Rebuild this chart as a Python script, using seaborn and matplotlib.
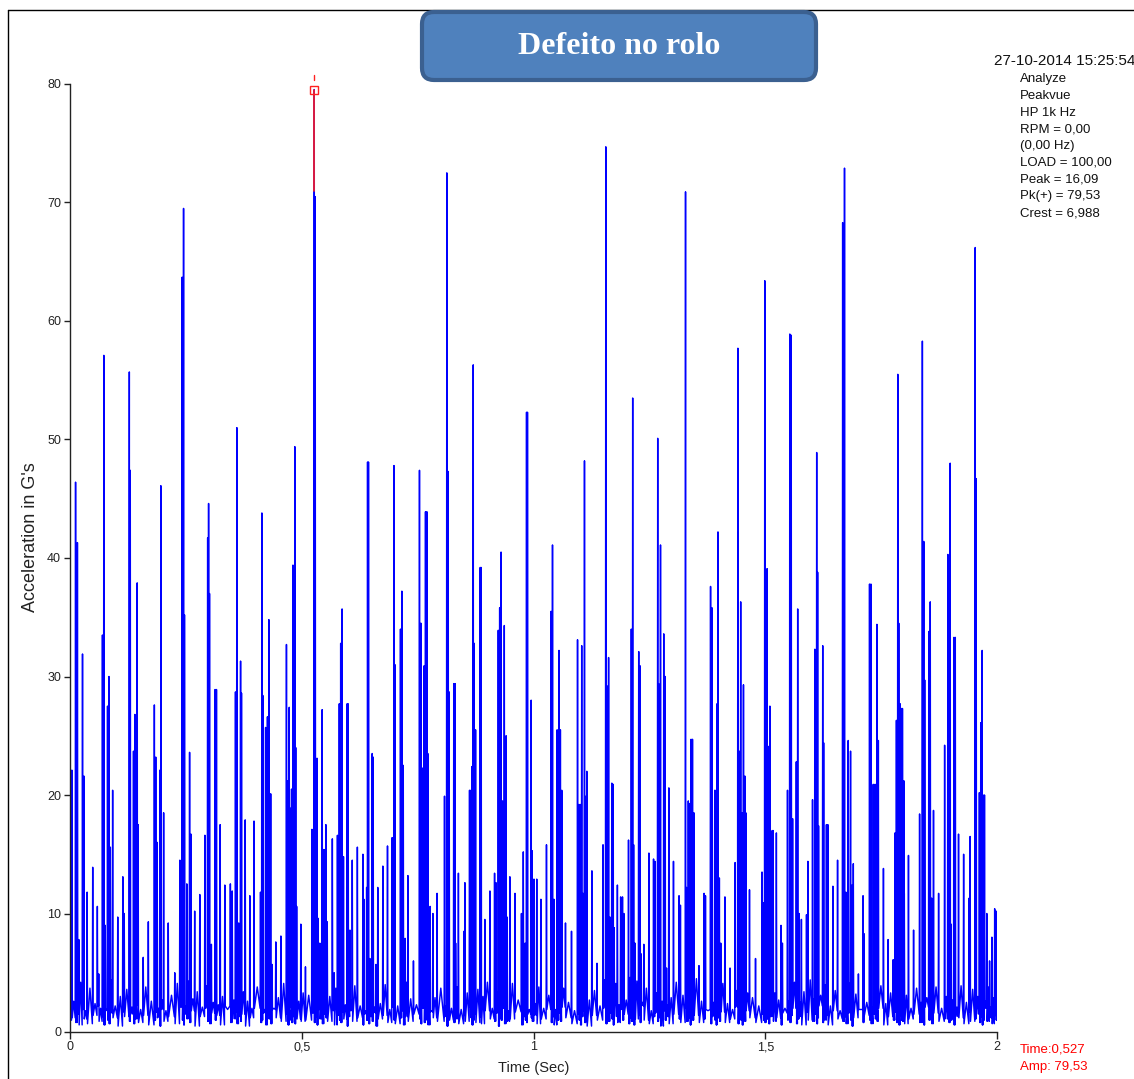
import numpy as np
import pandas as pd
import matplotlib
matplotlib.use("Agg")
import matplotlib.pyplot as plt
from matplotlib.patches import FancyBboxPatch
from matplotlib.lines import Line2D
import seaborn as sns

# ---------------------------------------------------------------------------
# PeakVue waveform: impact peaks (time in s, acceleration in G), the floor the
# signal falls back to after each impact and the small ripple that follows,
# split in half-second blocks.
# ---------------------------------------------------------------------------
a_time = [0.004, 0.012, 0.016, 0.019, 0.027, 0.030, 0.037, 0.049, 0.059, 0.062,
          0.070, 0.073, 0.076, 0.081, 0.084, 0.087, 0.092, 0.103, 0.114, 0.117,
          0.128, 0.130, 0.137, 0.140, 0.145, 0.147, 0.158, 0.169, 0.182, 0.185,
          0.188, 0.194, 0.196, 0.202, 0.212, 0.226, 0.237, 0.242, 0.245, 0.247,
          0.252, 0.258, 0.261, 0.269, 0.280, 0.291, 0.297, 0.299, 0.301, 0.305,
          0.313, 0.316, 0.324, 0.334, 0.346, 0.350, 0.357, 0.360, 0.364, 0.368,
          0.370, 0.378, 0.388, 0.397, 0.411, 0.414, 0.416, 0.422, 0.426, 0.429,
          0.433, 0.436, 0.444, 0.455, 0.467, 0.470, 0.473, 0.475, 0.478, 0.481,
          0.485, 0.487, 0.489, 0.498]
a_peak = [22.1, 46.4, 41.3, 7.8, 31.9, 21.6, 11.8, 13.9, 10.6, 4.9,
          33.5, 57.1, 9.0, 27.5, 30.0, 15.6, 20.4, 9.7, 13.1, 10.0,
          55.7, 47.4, 23.7, 26.8, 37.9, 17.5, 6.3, 9.3, 27.6, 23.2,
          16.0, 22.1, 46.1, 18.5, 9.2, 5.0, 14.5, 63.7, 69.5, 35.2,
          12.5, 23.6, 16.7, 10.2, 11.6, 16.6, 41.7, 44.6, 37.0, 7.4,
          28.9, 28.9, 17.5, 12.4, 12.5, 11.9, 28.7, 51.0, 9.2, 31.3,
          28.6, 17.9, 11.5, 17.8, 11.8, 43.8, 28.4, 25.7, 26.6, 34.8,
          20.1, 5.7, 7.6, 8.1, 32.7, 21.2, 27.4, 18.9, 20.5, 39.4,
          49.4, 24.0, 10.6, 9.1]
a_floor = [1.2, 0.8, 1.5, 0.6, 1.9, 1.1, 0.7, 1.4, 2.2, 0.9,
           1.3, 0.6, 1.8, 1.0, 0.7, 1.6, 1.2, 0.5, 2.0, 1.3,
           0.9, 1.5, 0.7, 1.1, 2.3, 0.8, 1.4, 0.6, 1.0, 1.7,
           1.2, 0.5, 1.9, 0.9, 1.3, 0.7, 2.1, 1.0, 0.6, 1.5,
           1.1, 0.8, 1.8, 0.5, 1.3, 2.0, 0.9, 1.2, 0.7, 1.6,
           1.0, 1.4, 0.6, 2.2, 0.8, 1.1, 1.7, 0.7, 1.3, 0.9,
           1.5, 0.5, 1.2, 2.0, 0.8, 1.0, 1.6, 0.6, 1.4, 1.1,
           0.7, 1.9, 1.2, 0.9, 1.5, 0.6, 1.0, 2.1, 0.8, 1.3,
           0.7, 1.4, 1.1, 0.9]
a_ripple = [2.6, 3.4, 2.1, 4.2, 2.9, 1.8, 3.7, 2.4, 3.1, 2.0,
            3.9, 2.5, 1.9, 3.3, 2.7, 4.4, 2.2, 3.0, 1.7, 3.6,
            2.8, 2.1, 4.0, 2.5, 3.2, 1.9, 3.8, 2.6, 2.3, 4.6,
            2.0, 3.5, 2.7, 1.8, 3.1, 4.1, 2.4, 2.9, 3.6, 2.2,
            4.3, 1.9, 2.8, 3.4, 2.1, 3.9, 2.6, 1.8, 3.3, 2.5,
            4.0, 2.3, 3.0, 1.9, 3.7, 2.7, 2.2, 4.5, 2.9, 1.8,
            3.4, 2.6, 2.0, 3.8, 2.4, 3.1, 1.9, 4.2, 2.7, 2.2,
            3.5, 2.0, 2.9, 4.1, 2.3, 3.2, 1.8, 3.6, 2.5, 3.0,
            2.1, 4.0, 2.6, 3.3]

b_time = [0.508, 0.522, 0.527, 0.529, 0.533, 0.535, 0.539, 0.544, 0.548, 0.552,
          0.555, 0.566, 0.570, 0.577, 0.581, 0.584, 0.587, 0.590, 0.598, 0.600,
          0.604, 0.609, 0.620, 0.632, 0.634, 0.640, 0.642, 0.644, 0.647, 0.652,
          0.654, 0.660, 0.664, 0.675, 0.685, 0.695, 0.699, 0.701, 0.713, 0.716,
          0.719, 0.723, 0.729, 0.741, 0.754, 0.757, 0.759, 0.764, 0.767, 0.770,
          0.772, 0.777, 0.783, 0.792, 0.808, 0.813, 0.816, 0.818, 0.828, 0.831,
          0.832, 0.838, 0.850, 0.852, 0.862, 0.865, 0.867, 0.870, 0.872, 0.875,
          0.885, 0.887, 0.895, 0.906, 0.916, 0.919, 0.924, 0.927, 0.930, 0.933,
          0.937, 0.941, 0.943, 0.949, 0.960, 0.974, 0.978, 0.982, 0.985, 0.987,
          0.995, 0.997]
b_peak = [5.5, 17.1, 79.53, 70.5, 23.1, 9.6, 7.5, 27.2, 15.4, 17.5,
          9.3, 16.3, 5.0, 16.6, 27.7, 32.8, 35.7, 14.8, 27.7, 27.7,
          8.6, 14.5, 15.6, 15.0, 11.2, 12.2, 48.1, 48.1, 6.2, 23.5,
          23.2, 5.7, 12.2, 14.0, 15.7, 16.4, 47.8, 31.0, 34.0, 37.2,
          22.5, 7.9, 13.2, 6.0, 47.4, 34.5, 22.3, 30.9, 43.9, 43.9,
          23.5, 10.6, 10.0, 11.7, 19.9, 72.5, 47.3, 28.7, 29.4, 29.4,
          7.5, 13.4, 8.5, 12.6, 20.4, 20.4, 22.4, 56.3, 32.8, 25.5,
          39.2, 39.2, 9.5, 11.9, 13.4, 12.6, 33.9, 35.8, 40.5, 19.5,
          34.3, 25.0, 9.7, 13.1, 11.7, 10.0, 15.2, 7.5, 52.3, 52.3,
          28.0, 15.3]
b_floor = [1.0, 1.6, 0.8, 1.3, 0.6, 1.9, 1.1, 0.7, 1.5, 1.2,
           0.9, 2.2, 0.6, 1.4, 1.0, 0.8, 1.7, 1.1, 0.5, 1.3,
           1.8, 0.9, 1.2, 0.6, 1.5, 1.0, 2.0, 0.7, 1.3, 0.9,
           1.6, 0.5, 1.1, 1.4, 0.8, 2.1, 1.0, 0.7, 1.2, 1.8,
           0.6, 1.3, 0.9, 1.5, 1.1, 0.7, 2.0, 0.8, 1.4, 1.0,
           0.6, 1.7, 1.2, 0.9, 1.3, 0.5, 1.6, 1.0, 0.8, 1.9,
           1.1, 0.7, 1.4, 0.9, 2.2, 1.2, 0.6, 1.0, 1.5, 0.8,
           1.3, 0.7, 1.8, 1.1, 0.9, 1.6, 0.5, 1.2, 1.0, 2.0,
           0.7, 1.4, 0.9, 1.1, 1.7, 0.6, 1.3, 1.0, 0.8, 1.5,
           1.2, 0.9]
b_ripple = [3.1, 2.2, 4.0, 2.6, 1.9, 3.5, 2.8, 2.1, 4.3, 2.4,
            3.0, 1.8, 3.7, 2.5, 2.0, 4.1, 2.9, 2.3, 3.4, 1.9,
            2.7, 3.9, 2.2, 3.1, 1.8, 4.4, 2.6, 2.0, 3.3, 2.8,
            2.1, 3.6, 2.4, 4.0, 1.9, 2.7, 3.2, 2.2, 3.8, 2.5,
            1.9, 4.2, 2.8, 2.3, 3.5, 2.0, 3.0, 2.6, 4.1, 2.1,
            3.4, 1.8, 2.9, 3.7, 2.2, 2.6, 4.5, 2.0, 3.1, 2.4,
            3.8, 1.9, 2.7, 3.3, 2.1, 4.0, 2.5, 2.9, 1.8, 3.6,
            2.3, 3.0, 4.2, 2.0, 2.8, 3.4, 1.9, 2.6, 3.9, 2.2,
            3.2, 2.5, 1.8, 4.1, 2.7, 2.1, 3.5, 2.4, 3.0, 1.9,
            2.8, 3.6]

c_time = [1.001, 1.007, 1.016, 1.028, 1.038, 1.041, 1.044, 1.051, 1.055, 1.058,
          1.061, 1.069, 1.082, 1.095, 1.098, 1.101, 1.104, 1.107, 1.110, 1.113,
          1.115, 1.126, 1.137, 1.150, 1.156, 1.159, 1.162, 1.165, 1.169, 1.172,
          1.174, 1.181, 1.188, 1.192, 1.195, 1.205, 1.208, 1.211, 1.214, 1.216,
          1.219, 1.227, 1.230, 1.232, 1.238, 1.249, 1.259, 1.262, 1.268, 1.270,
          1.274, 1.281, 1.284, 1.287, 1.292, 1.302, 1.314, 1.317, 1.328, 1.330,
          1.334, 1.338, 1.340, 1.343, 1.346, 1.357, 1.368, 1.371, 1.382, 1.385,
          1.391, 1.394, 1.396, 1.398, 1.401, 1.404, 1.413, 1.424, 1.435, 1.441,
          1.444, 1.447, 1.450, 1.453, 1.456, 1.458, 1.466, 1.479, 1.493, 1.496]
c_peak = [12.9, 12.9, 11.2, 15.8, 35.5, 41.1, 11.2, 25.5, 32.2, 25.5,
          20.4, 9.2, 8.5, 33.1, 19.2, 19.2, 32.6, 11.7, 48.2, 19.9,
          22.0, 13.6, 5.8, 15.8, 74.7, 29.2, 31.6, 9.7, 21.0, 20.9,
          8.8, 12.4, 11.4, 11.4, 10.0, 16.2, 4.6, 34.0, 53.5, 15.8,
          7.5, 32.1, 30.9, 6.6, 7.4, 15.1, 14.6, 14.4, 50.1, 29.4,
          41.1, 33.6, 30.0, 5.4, 20.6, 14.4, 11.5, 10.7, 70.9, 12.2,
          19.5, 19.3, 24.7, 24.7, 18.5, 5.6, 11.7, 11.5, 37.6, 35.8,
          20.4, 20.4, 27.7, 42.2, 13.0, 7.5, 11.4, 5.4, 14.3, 57.7,
          23.7, 36.3, 18.5, 29.3, 21.6, 18.5, 12.0, 6.2, 13.5, 10.9]
c_floor = [1.4, 0.7, 1.1, 1.9, 0.8, 1.3, 0.6, 1.0, 1.6, 0.9,
           2.1, 1.2, 0.7, 1.5, 1.0, 0.6, 1.3, 1.8, 0.8, 1.1,
           0.5, 1.4, 1.0, 2.0, 0.7, 1.2, 0.9, 1.6, 1.1, 0.6,
           1.3, 0.8, 1.9, 1.0, 1.5, 0.7, 1.2, 0.9, 1.7, 0.6,
           1.1, 1.4, 0.8, 2.2, 1.0, 0.7, 1.3, 1.6, 0.9, 1.2,
           0.5, 1.8, 1.0, 1.3, 0.7, 1.5, 1.1, 0.8, 2.0, 0.9,
           1.2, 0.6, 1.6, 1.0, 1.4, 0.8, 1.1, 1.9, 0.7, 1.3,
           1.0, 0.6, 1.5, 1.2, 0.9, 1.7, 0.8, 1.1, 2.1, 0.7,
           1.3, 1.0, 0.6, 1.4, 0.9, 1.8, 1.2, 0.8, 1.5, 1.0]
c_ripple = [2.4, 3.8, 2.0, 3.1, 2.6, 4.2, 1.9, 2.9, 3.4, 2.2,
            3.7, 2.5, 1.8, 4.0, 2.8, 2.1, 3.3, 2.6, 3.9, 1.9,
            2.7, 3.5, 2.2, 4.4, 2.0, 3.0, 2.5, 3.6, 1.8, 2.9,
            4.1, 2.3, 3.2, 2.0, 2.7, 3.8, 2.4, 1.9, 3.4, 2.6,
            4.3, 2.1, 3.0, 2.5, 3.7, 1.8, 2.8, 3.3, 2.2, 4.0,
            2.6, 1.9, 3.5, 2.3, 2.9, 4.2, 2.0, 3.1, 2.4, 3.8,
            1.9, 2.7, 3.4, 2.1, 4.5, 2.6, 3.0, 1.8, 3.6, 2.5,
            2.2, 3.9, 2.8, 2.0, 3.2, 4.1, 2.4, 1.9, 3.5, 2.7,
            3.0, 2.1, 4.0, 2.6, 1.8, 3.3, 2.9, 2.2, 3.7, 2.4]

d_time = [1.499, 1.502, 1.504, 1.507, 1.510, 1.515, 1.517, 1.524, 1.534, 1.537,
          1.548, 1.553, 1.556, 1.559, 1.567, 1.570, 1.573, 1.578, 1.589, 1.592,
          1.602, 1.607, 1.611, 1.613, 1.615, 1.624, 1.626, 1.632, 1.635, 1.646,
          1.656, 1.667, 1.671, 1.674, 1.679, 1.684, 1.687, 1.690, 1.701, 1.711,
          1.713, 1.725, 1.728, 1.733, 1.737, 1.741, 1.744, 1.755, 1.765, 1.776,
          1.780, 1.783, 1.786, 1.788, 1.791, 1.794, 1.796, 1.799, 1.800, 1.809,
          1.820, 1.833, 1.839, 1.842, 1.844, 1.853, 1.856, 1.859, 1.863, 1.874,
          1.887, 1.894, 1.896, 1.899, 1.901, 1.907, 1.910, 1.917, 1.928, 1.940,
          1.942, 1.953, 1.955, 1.962, 1.965, 1.968, 1.970, 1.973, 1.978, 1.984,
          1.989, 1.995, 1.998]
d_peak = [63.4, 18.7, 39.1, 24.1, 27.5, 17.0, 17.0, 16.8, 9.0, 7.5,
          20.4, 58.9, 58.8, 18.0, 22.8, 35.7, 10.0, 9.5, 9.9, 14.4,
          19.6, 32.3, 48.9, 38.8, 17.4, 32.6, 24.4, 17.5, 17.5, 12.3,
          14.5, 68.3, 72.9, 11.8, 24.6, 23.7, 12.4, 14.2, 4.9, 11.5,
          8.3, 37.8, 37.8, 20.9, 20.9, 34.4, 24.6, 13.8, 7.8, 6.1,
          16.8, 26.3, 55.5, 34.5, 27.7, 27.3, 27.3, 21.2, 11.7, 14.9,
          8.6, 18.4, 58.3, 41.4, 29.7, 33.8, 36.3, 11.3, 18.7, 11.7,
          24.2, 40.3, 30.0, 48.0, 9.1, 33.3, 33.3, 16.7, 15.0, 11.3,
          16.5, 66.2, 46.7, 20.2, 26.1, 32.2, 20.0, 20.0, 10.0, 6.0,
          8.0, 10.4, 10.2]
d_floor = [0.8, 1.5, 1.1, 0.7, 1.3, 1.9, 0.9, 1.2, 0.6, 1.6,
           1.0, 0.8, 1.4, 2.0, 0.7, 1.1, 1.3, 0.6, 1.7, 1.0,
           0.9, 1.5, 0.7, 1.2, 2.2, 0.8, 1.0, 1.4, 0.6, 1.8,
           1.1, 0.9, 1.3, 0.7, 1.6, 1.0, 0.5, 1.2, 1.9, 0.8,
           1.4, 1.0, 0.7, 1.5, 1.1, 0.9, 2.0, 0.6, 1.3, 1.0,
           1.7, 0.8, 1.2, 0.6, 1.4, 1.0, 0.9, 1.8, 0.7, 1.1,
           1.5, 0.8, 1.2, 0.6, 2.1, 1.0, 1.3, 0.7, 1.6, 0.9,
           1.1, 1.4, 0.8, 1.9, 1.0, 0.6, 1.3, 1.2, 0.7, 1.7,
           0.9, 1.1, 1.5, 0.8, 1.3, 0.6, 1.0, 2.0, 0.9, 1.2,
           0.7, 1.4, 1.0]
d_ripple = [3.5, 2.1, 2.9, 4.0, 2.4, 1.8, 3.3, 2.7, 3.9, 2.0,
            2.6, 3.6, 2.2, 4.2, 1.9, 3.0, 2.5, 3.4, 2.1, 4.4,
            2.8, 1.9, 3.7, 2.4, 3.1, 2.0, 4.0, 2.6, 2.2, 3.5,
            1.8, 2.9, 3.8, 2.3, 4.1, 2.0, 2.7, 3.2, 1.9, 3.6,
            2.5, 4.3, 2.1, 3.0, 2.6, 1.8, 3.9, 2.4, 3.3, 2.0,
            4.0, 2.7, 2.2, 3.5, 1.9, 2.8, 4.2, 2.3, 3.1, 2.0,
            3.7, 2.5, 1.8, 3.4, 2.9, 4.1, 2.2, 2.6, 3.8, 2.0,
            3.0, 2.4, 4.4, 1.9, 2.7, 3.3, 2.1, 3.9, 2.5, 1.8,
            3.6, 2.2, 3.0, 4.0, 2.4, 1.9, 3.2, 2.6, 3.8, 2.1,
            2.9, 3.4, 2.2]

start_floor = 1.0
record_end = 2.0

x_ticks = [0, 0.5, 1, 1.5, 2]
x_tick_labels = ["0", "0,5", "1", "1,5", "2"]
y_ticks = [0, 10, 20, 30, 40, 50, 60, 70, 80]

stamp = "27-10-2014 15:25:54"
info_lines = ["Analyze", "Peakvue", "HP 1k Hz", "RPM = 0,00", "(0,00 Hz)",
              "LOAD = 100,00", "Peak = 16,09", "Pk(+) = 79,53", "Crest = 6,988"]
title = "Defeito no rolo"

# ---------------------------------------------------------------------------
# Assemble the sampled trace: sharp rise to each peak, drop to the floor,
# a small ripple in the gap, then the next impact.
# ---------------------------------------------------------------------------
times = a_time + b_time + c_time + d_time
peaks = a_peak + b_peak + c_peak + d_peak
floors = a_floor + b_floor + c_floor + d_floor
ripples = a_ripple + b_ripple + c_ripple + d_ripple

trace_t = [0.0, times[0] - 0.0008]
trace_g = [start_floor, start_floor]
for i, (t, g, f, r) in enumerate(zip(times, peaks, floors, ripples)):
    t_next = times[i + 1] if i + 1 < len(times) else record_end
    d = min(0.0008, (t_next - t) / 4.0)
    trace_t += [t, t + d, 0.5 * (t + t_next), t_next - d]
    trace_g += [g, f, r, f]

wave = pd.DataFrame({"Time (Sec)": trace_t, "Acceleration in G's": trace_g})

i_max = int(np.argmax(peaks))
cursor_t, cursor_g = times[i_max], peaks[i_max]

# ---------------------------------------------------------------------------
# Figure
# ---------------------------------------------------------------------------
sns.set_style("ticks")
plt.rcParams["font.family"] = ["Liberation Sans", "DejaVu Sans"]

W, H = 1134, 1079
fig = plt.figure(figsize=(W / 100, H / 100), dpi=100)
fig.patch.set_facecolor("white")

ax = fig.add_axes([70 / W, 1 - 1032 / H, (997 - 70) / W, (1032 - 84) / H])
sns.lineplot(data=wave, x="Time (Sec)", y="Acceleration in G's", sort=False,
             estimator=None, color="#0000FF", lw=1.05, ax=ax)

ax.set_xlim(0, 2)
ax.set_ylim(0, 80)
ax.set_xticks(x_ticks)
ax.set_xticklabels(x_tick_labels)
ax.set_yticks(y_ticks)
sns.despine(ax=ax)
for side in ("left", "bottom"):
    ax.spines[side].set_linewidth(1.0)
    ax.spines[side].set_color("#222222")
ax.tick_params(axis="y", length=4.2, width=1, color="#222222",
               labelsize=9, labelcolor="#222222", pad=2.2)
ax.tick_params(axis="x", length=4.8, width=1, color="#222222",
               labelsize=9, labelcolor="#222222", pad=2.0)
ax.set_xlabel("Time (Sec)", fontsize=10.5, color="#222222")
ax.set_ylabel("Acceleration in G's", fontsize=13, color="#222222")
ax.xaxis.set_label_coords(0.5, -0.031)
ax.yaxis.set_label_coords(-0.0335, 0.522)

# Peak cursor
ax.plot([cursor_t, cursor_t], [71.0, cursor_g], color="#FF2020", lw=1.2, zorder=5)
ax.plot([cursor_t], [cursor_g], marker="s", ms=5.5, mfc="none", mec="#FF2020",
        mew=1.0, clip_on=False, zorder=6)
ax.plot([cursor_t, cursor_t], [80.3, 80.8], color="#FF2020", lw=1.0,
        clip_on=False, zorder=6)

# Outer frame lines
fig.add_artist(Line2D([8 / W, 8 / W], [0, 1 - 10 / H], transform=fig.transFigure,
                      color="black", lw=1.0, zorder=1))
fig.add_artist(Line2D([8 / W, 1], [1 - 10 / H, 1 - 10 / H], transform=fig.transFigure,
                      color="black", lw=1.0, zorder=1))

# Title banner
banner = FancyBboxPatch((4.22, (H - 80) / 100), 3.94, 0.68,
                        boxstyle="round,pad=0,rounding_size=0.12",
                        transform=fig.dpi_scale_trans, facecolor="#4F81BD",
                        edgecolor="#3B6090", lw=3.0, zorder=3)
fig.add_artist(banner)
fig.text(619 / W, 1 - 47 / H, title, ha="center", va="center", color="white",
         fontsize=23, fontweight="bold", family=["Liberation Serif", "DejaVu Serif"],
         zorder=4)

# Measurement info block
fig.text(994 / W, 1 - 61 / H, stamp, ha="left", va="center", fontsize=11,
         color="#111111")
for k, line in enumerate(info_lines):
    fig.text(1020 / W, 1 - (79 + 16.75 * k) / H, line, ha="left", va="center",
             fontsize=9.5, color="#111111")

# Cursor readout
fig.text(1020 / W, 1 - 1050 / H, "Time:" + f"{cursor_t:.3f}".replace(".", ","),
         ha="left", va="center", fontsize=9.5, color="#FF0000")
fig.text(1020 / W, 1 - 1067 / H, "Amp: " + f"{cursor_g:.2f}".replace(".", ","),
         ha="left", va="center", fontsize=9.5, color="#FF0000")

fig.savefig("out.png", dpi=100, facecolor="white")
